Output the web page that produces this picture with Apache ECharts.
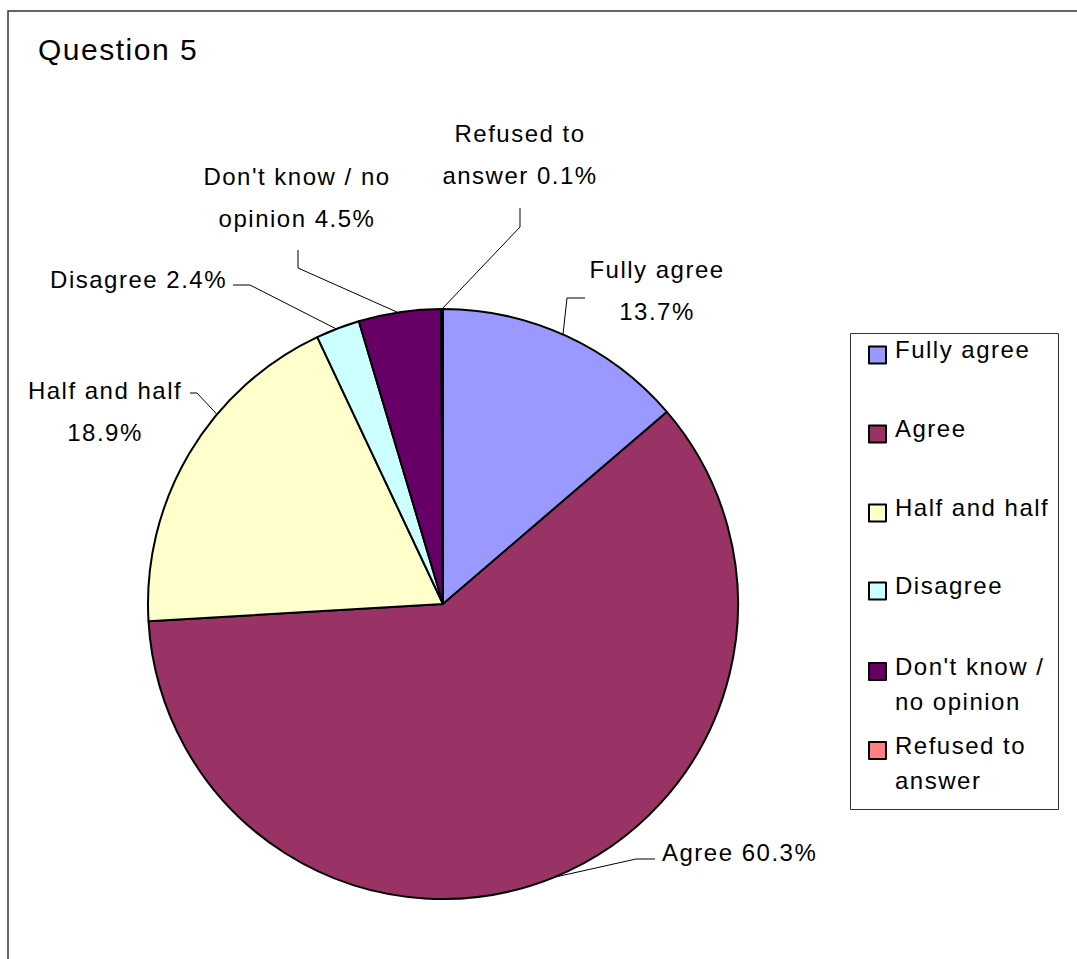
<!DOCTYPE html>
<html><head><meta charset="utf-8">
<style>
html,body{margin:0;padding:0;background:#fff}
#c{width:1077px;height:959px}
#c text{letter-spacing:1.5px}
</style>
<script src="https://cdn.jsdelivr.net/npm/echarts@6/dist/echarts.min.js"></script>
</head><body><div id="c"></div>
<script>
// ---- data ----
const categories = ['Fully agree', 'Agree', 'Half and half', 'Disagree', "Don't know / no opinion", 'Refused to answer'];
const values = [13.7, 60.3, 18.9, 2.4, 4.5, 0.1];
const colors = ['#9999FF', '#993366', '#FFFFCC', '#CCFFFF', '#660066', '#FF8080'];
const labelPrefixes = ['Fully agree\n', 'Agree ', 'Half and half\n', 'Disagree ', "Don't know / no\nopinion ", 'Refused to\nanswer '];
const legendLines = [['Fully agree'], ['Agree'], ['Half and half'], ['Disagree'], ["Don't know /", 'no opinion'], ['Refused to', 'answer']];

// ---- layout (pixels) ----
const CX = 443, CY = 604, R = 295;
const FONT = 'Liberation Sans';
const labelPlace = [
  {x: 657, y: 290, align: 'center', a: 24,    elbow: [567, 298], end: [585, 298]},
  {x: 662, y: 852, align: 'left',   a: 157.9, elbow: [636, 859], end: [655, 859]},
  {x: 105, y: 411, align: 'center', a: 310,   elbow: [197, 393], end: [190, 393]},
  {x: 227, y: 279, align: 'right',  a: 338.8, elbow: [250, 285], end: [233, 285]},
  {x: 297, y: 197, align: 'center', a: 351.2, elbow: [298, 268], end: [298, 250]},
  {x: 520, y: 154, align: 'center', a: 359.8, elbow: [520, 227], end: [520, 208]}
];
const legendIconTops = [347, 426, 505, 583, 663, 742];

const chart = echarts.init(document.getElementById('c'), null, {renderer: 'svg'});

const pieData = categories.map((n, i) => ({name: n, value: values[i], itemStyle: {color: colors[i]}}));

const richStyles = {
  a: {fontFamily: FONT, fontSize: 24, lineHeight: 26, color: '#000'},
  s: {fontFamily: FONT, fontSize: 24, lineHeight: 11, color: '#000'},
  t: {fontFamily: FONT, fontSize: 24, lineHeight: 25, color: '#000'},
  b: {fontFamily: FONT, fontSize: 24, lineHeight: 35, color: '#000'}
};

const legends = categories.map((n, i) => {
  const lines = legendLines[i];
  const twoLine = lines.length > 1;
  const txt = twoLine
    ? '{t| }\n' + lines.map(l => '{b|' + l + '}').join('\n')
    : '{a|' + lines[0] + '}\n{s| }';
  return {
    data: [n],
    orient: 'vertical',
    left: 868,
    top: legendIconTops[i] - (twoLine ? 38.5 : 9.5),
    padding: 0,
    itemWidth: 17,
    itemHeight: 17,
    icon: 'rect',
    selectedMode: false,
    itemStyle: {borderColor: '#000', borderWidth: 2},
    formatter: () => txt,
    textStyle: {fontFamily: FONT, fontSize: 24, color: '#000', padding: [0, 0, 0, 4], rich: richStyles}
  };
});

chart.setOption({
  animation: false,
  backgroundColor: '#fff',
  title: {
    text: 'Question 5', left: 38, top: 34, padding: 0,
    textStyle: {fontFamily: FONT, fontSize: 30, fontWeight: 'normal', color: '#000'}
  },
  legend: legends,
  graphic: [
    {type: 'rect', silent: true, z: -1, shape: {x: 8, y: 11, width: 1200, height: 1200},
     style: {fill: 'none', stroke: '#333', lineWidth: 1.5}},
    {type: 'rect', silent: true, z: -1, shape: {x: 850.5, y: 333.5, width: 208, height: 476},
     style: {fill: 'none', stroke: '#333', lineWidth: 1}}
  ],
  series: [{
    type: 'pie',
    center: [CX, CY],
    radius: R,
    startAngle: 90,
    clockwise: true,
    avoidLabelOverlap: false,
    emphasis: {disabled: true},
    itemStyle: {borderColor: '#000', borderWidth: 2},
    label: {
      show: true, position: 'outside',
      fontFamily: FONT, fontSize: 24, lineHeight: 42, color: '#000',
      formatter: p => labelPrefixes[p.dataIndex] + p.value.toFixed(1) + '%'
    },
    labelLine: {show: true, length: 10, length2: 10, smooth: false, lineStyle: {color: '#000', width: 1}},
    labelLayout: function (p) {
      const L = labelPlace[p.dataIndex];
      const t = L.a * Math.PI / 180;
      const s = [CX + R * Math.sin(t), CY - R * Math.cos(t)];
      return {x: L.x, y: L.y, align: L.align, verticalAlign: 'middle', labelLinePoints: [s, L.elbow, L.end]};
    },
    data: pieData
  }]
});
</script>
</body></html>
